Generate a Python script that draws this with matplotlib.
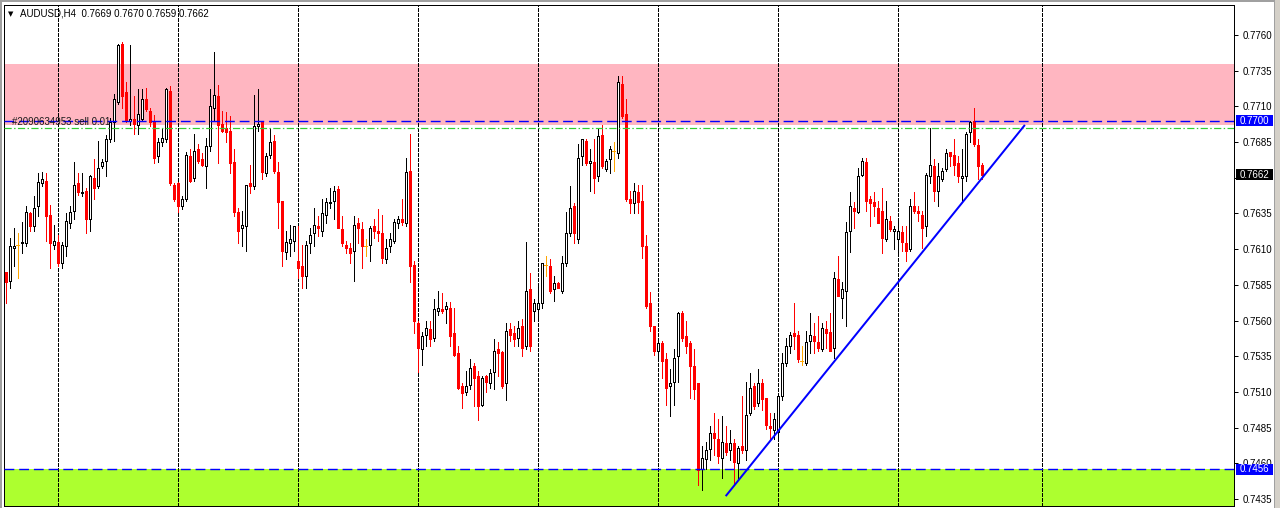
import matplotlib
matplotlib.use('Agg')
import matplotlib.pyplot as plt
import numpy as np
from matplotlib.transforms import blended_transform_factory
from matplotlib.patches import Rectangle

plt.rcParams['font.family'] = ['Liberation Sans', 'DejaVu Sans']

# ---------------- data (AUDUSD H4 candles) ----------------
opens = [0.7594, 0.7588, 0.7611, 0.7613, 0.7614, 0.7614, 0.7635, 0.7626, 0.7640, 0.7656,
         0.7658, 0.7634, 0.7613, 0.7615, 0.7600, 0.7612, 0.7628, 0.7637, 0.7656, 0.7649,
         0.7651, 0.7631, 0.7660, 0.7654, 0.7668, 0.7672, 0.7687, 0.7699, 0.7713, 0.7754,
         0.7720, 0.7700, 0.7701, 0.7697, 0.7701, 0.7715, 0.7707, 0.7699, 0.7675, 0.7685,
         0.7687, 0.7721, 0.7655, 0.7656, 0.7640, 0.7645, 0.7675, 0.7660, 0.7680, 0.7673,
         0.7668, 0.7682, 0.7709, 0.7717, 0.7698, 0.7695, 0.7693, 0.7671, 0.7636, 0.7625,
         0.7626, 0.7656, 0.7654, 0.7696, 0.7699, 0.7663, 0.7676, 0.7686, 0.7664, 0.7644,
         0.7608, 0.7614, 0.7616, 0.7602, 0.7598, 0.7591, 0.7614, 0.7621, 0.7626, 0.7623,
         0.7634, 0.7642, 0.7644, 0.7652, 0.7624, 0.7613, 0.7611, 0.7609, 0.7628, 0.7624,
         0.7612, 0.7613, 0.7626, 0.7623, 0.7621, 0.7603, 0.7612, 0.7616, 0.7628, 0.7631,
         0.7628, 0.7665, 0.7599, 0.7558, 0.7540, 0.7550, 0.7554, 0.7548, 0.7567, 0.7568,
         0.7568, 0.7569, 0.7551, 0.7537, 0.7514, 0.7510, 0.7515, 0.7528, 0.7521, 0.7501,
         0.7521, 0.7516, 0.7524, 0.7540, 0.7538, 0.7516, 0.7554, 0.7551, 0.7548, 0.7556,
         0.7542, 0.7582, 0.7567, 0.7568, 0.7572, 0.7599, 0.7598, 0.7582, 0.7586, 0.7581,
         0.7600, 0.7621, 0.7640, 0.7617, 0.7675, 0.7686, 0.7670, 0.7671, 0.7661, 0.7690,
         0.7666, 0.7673, 0.7679, 0.7677, 0.7726, 0.7705, 0.7645, 0.7642, 0.7650, 0.7644,
         0.7612, 0.7572, 0.7556, 0.7539, 0.7544, 0.7533, 0.7514, 0.7517, 0.7535, 0.7565,
         0.7549, 0.7544, 0.7528, 0.7516, 0.7456, 0.7463, 0.7470, 0.7481, 0.7477, 0.7464,
         0.7474, 0.7469, 0.7474, 0.7460, 0.7472, 0.7469, 0.7495, 0.7514, 0.7502, 0.7516,
         0.7506, 0.7486, 0.7483, 0.7482, 0.7507, 0.7530, 0.7542, 0.7551, 0.7550, 0.7532,
         0.7530, 0.7546, 0.7549, 0.7545, 0.7540, 0.7554, 0.7552, 0.7541, 0.7589, 0.7576,
         0.7581, 0.7623, 0.7639, 0.7636, 0.7662, 0.7671, 0.7645, 0.7643, 0.7639, 0.7637,
         0.7617, 0.7630, 0.7623, 0.7617, 0.7622, 0.7614, 0.7610, 0.7640, 0.7637, 0.7634,
         0.7626, 0.7661, 0.7668, 0.7651, 0.7659, 0.7666, 0.7678, 0.7676, 0.7670, 0.7660,
         0.7661, 0.7692, 0.7700, 0.7683, 0.7669]
highs = [0.7594, 0.7618, 0.7625, 0.7621, 0.7629, 0.7640, 0.7636, 0.7647, 0.7663, 0.7664,
         0.7663, 0.7641, 0.7627, 0.7620, 0.7615, 0.7635, 0.7640, 0.7671, 0.7663, 0.7663,
         0.7653, 0.7662, 0.7673, 0.7686, 0.7673, 0.7690, 0.7702, 0.7719, 0.7754, 0.7755,
         0.7727, 0.7753, 0.7717, 0.7722, 0.7722, 0.7723, 0.7709, 0.7704, 0.7688, 0.7694,
         0.7723, 0.7724, 0.7656, 0.7657, 0.7647, 0.7678, 0.7680, 0.7691, 0.7684, 0.7677,
         0.7688, 0.7722, 0.7748, 0.7725, 0.7707, 0.7706, 0.7703, 0.7680, 0.7639, 0.7637,
         0.7655, 0.7669, 0.7718, 0.7722, 0.7699, 0.7677, 0.7695, 0.7690, 0.7671, 0.7644,
         0.7623, 0.7627, 0.7626, 0.7626, 0.7613, 0.7616, 0.7625, 0.7639, 0.7633, 0.7645,
         0.7646, 0.7653, 0.7654, 0.7654, 0.7633, 0.7616, 0.7614, 0.7633, 0.7632, 0.7629,
         0.7617, 0.7626, 0.7631, 0.7638, 0.7634, 0.7617, 0.7621, 0.7631, 0.7633, 0.7645,
         0.7674, 0.7691, 0.7602, 0.7560, 0.7552, 0.7560, 0.7560, 0.7575, 0.7581, 0.7579,
         0.7573, 0.7573, 0.7569, 0.7542, 0.7516, 0.7525, 0.7533, 0.7530, 0.7525, 0.7521,
         0.7522, 0.7526, 0.7547, 0.7545, 0.7539, 0.7558, 0.7558, 0.7556, 0.7560, 0.7561,
         0.7615, 0.7593, 0.7575, 0.7584, 0.7600, 0.7605, 0.7603, 0.7591, 0.7587, 0.7605,
         0.7636, 0.7654, 0.7642, 0.7684, 0.7687, 0.7687, 0.7680, 0.7687, 0.7694, 0.7697,
         0.7673, 0.7682, 0.7685, 0.7731, 0.7731, 0.7715, 0.7651, 0.7656, 0.7655, 0.7655,
         0.7620, 0.7580, 0.7556, 0.7545, 0.7546, 0.7537, 0.7526, 0.7540, 0.7566, 0.7567,
         0.7560, 0.7546, 0.7540, 0.7516, 0.7472, 0.7475, 0.7486, 0.7495, 0.7491, 0.7493,
         0.7486, 0.7483, 0.7477, 0.7472, 0.7507, 0.7517, 0.7523, 0.7516, 0.7526, 0.7519,
         0.7506, 0.7495, 0.7495, 0.7508, 0.7537, 0.7548, 0.7552, 0.7572, 0.7553, 0.7542,
         0.7553, 0.7565, 0.7558, 0.7563, 0.7558, 0.7560, 0.7565, 0.7594, 0.7605, 0.7587,
         0.7629, 0.7650, 0.7643, 0.7667, 0.7674, 0.7674, 0.7647, 0.7650, 0.7644, 0.7653,
         0.7644, 0.7633, 0.7626, 0.7630, 0.7626, 0.7626, 0.7645, 0.7650, 0.7640, 0.7637,
         0.7663, 0.7695, 0.7673, 0.7670, 0.7667, 0.7680, 0.7678, 0.7687, 0.7675, 0.7680,
         0.7692, 0.7700, 0.7709, 0.7687, 0.7670]
lows = [0.7572, 0.7583, 0.7598, 0.7590, 0.7607, 0.7612, 0.7623, 0.7623, 0.7633, 0.7654,
        0.7616, 0.7597, 0.7610, 0.7598, 0.7597, 0.7605, 0.7625, 0.7631, 0.7648, 0.7647,
        0.7621, 0.7623, 0.7645, 0.7653, 0.7667, 0.7661, 0.7685, 0.7686, 0.7712, 0.7709,
        0.7699, 0.7697, 0.7691, 0.7691, 0.7700, 0.7707, 0.7696, 0.7670, 0.7671, 0.7682,
        0.7685, 0.7655, 0.7644, 0.7636, 0.7638, 0.7644, 0.7657, 0.7658, 0.7670, 0.7668,
        0.7653, 0.7679, 0.7700, 0.7670, 0.7692, 0.7685, 0.7663, 0.7633, 0.7614, 0.7612,
        0.7609, 0.7649, 0.7652, 0.7693, 0.7659, 0.7661, 0.7674, 0.7663, 0.7625, 0.7598,
        0.7603, 0.7605, 0.7609, 0.7590, 0.7583, 0.7583, 0.7607, 0.7612, 0.7619, 0.7619,
        0.7628, 0.7639, 0.7631, 0.7625, 0.7612, 0.7607, 0.7600, 0.7588, 0.7614, 0.7597,
        0.7605, 0.7602, 0.7618, 0.7616, 0.7600, 0.7600, 0.7608, 0.7614, 0.7625, 0.7627,
        0.7626, 0.7587, 0.7551, 0.7524, 0.7529, 0.7542, 0.7542, 0.7546, 0.7564, 0.7565,
        0.7558, 0.7542, 0.7535, 0.7512, 0.7499, 0.7508, 0.7512, 0.7500, 0.7490, 0.7500,
        0.7510, 0.7513, 0.7512, 0.7521, 0.7513, 0.7504, 0.7546, 0.7542, 0.7542, 0.7535,
        0.7540, 0.7539, 0.7560, 0.7561, 0.7569, 0.7591, 0.7579, 0.7574, 0.7583, 0.7579,
        0.7598, 0.7619, 0.7614, 0.7614, 0.7669, 0.7669, 0.7651, 0.7649, 0.7658, 0.7667,
        0.7665, 0.7663, 0.7665, 0.7674, 0.7702, 0.7644, 0.7635, 0.7635, 0.7635, 0.7604,
        0.7569, 0.7553, 0.7536, 0.7532, 0.7520, 0.7501, 0.7493, 0.7501, 0.7517, 0.7546,
        0.7537, 0.7506, 0.7505, 0.7445, 0.7441, 0.7456, 0.7462, 0.7466, 0.7460, 0.7450,
        0.7466, 0.7462, 0.7446, 0.7448, 0.7467, 0.7462, 0.7494, 0.7498, 0.7500, 0.7497,
        0.7484, 0.7476, 0.7477, 0.7477, 0.7504, 0.7528, 0.7537, 0.7540, 0.7531, 0.7529,
        0.7529, 0.7537, 0.7537, 0.7539, 0.7539, 0.7541, 0.7539, 0.7534, 0.7577, 0.7562,
        0.7556, 0.7608, 0.7625, 0.7635, 0.7661, 0.7637, 0.7626, 0.7633, 0.7628, 0.7607,
        0.7616, 0.7623, 0.7610, 0.7607, 0.7609, 0.7602, 0.7609, 0.7635, 0.7630, 0.7611,
        0.7619, 0.7656, 0.7644, 0.7640, 0.7658, 0.7665, 0.7668, 0.7662, 0.7657, 0.7644,
        0.7658, 0.7685, 0.7682, 0.7659, 0.7659]
closes = [0.7587, 0.7612, 0.7612, 0.7613, 0.7615, 0.7636, 0.7626, 0.7639, 0.7657, 0.7659,
          0.7633, 0.7614, 0.7616, 0.7600, 0.7613, 0.7630, 0.7636, 0.7655, 0.7650, 0.7650,
          0.7631, 0.7661, 0.7653, 0.7667, 0.7671, 0.7687, 0.7699, 0.7715, 0.7753, 0.7717,
          0.7700, 0.7701, 0.7698, 0.7705, 0.7715, 0.7708, 0.7699, 0.7674, 0.7685, 0.7688,
          0.7722, 0.7656, 0.7645, 0.7640, 0.7645, 0.7676, 0.7658, 0.7679, 0.7672, 0.7669,
          0.7682, 0.7710, 0.7718, 0.7697, 0.7693, 0.7692, 0.7670, 0.7636, 0.7623, 0.7627,
          0.7655, 0.7654, 0.7696, 0.7698, 0.7664, 0.7675, 0.7685, 0.7665, 0.7643, 0.7609,
          0.7615, 0.7617, 0.7626, 0.7597, 0.7591, 0.7613, 0.7620, 0.7627, 0.7625, 0.7635,
          0.7643, 0.7643, 0.7651, 0.7625, 0.7614, 0.7611, 0.7607, 0.7627, 0.7625, 0.7612,
          0.7612, 0.7625, 0.7623, 0.7621, 0.7604, 0.7611, 0.7617, 0.7629, 0.7631, 0.7629,
          0.7664, 0.7598, 0.7560, 0.7541, 0.7549, 0.7555, 0.7547, 0.7568, 0.7569, 0.7567,
          0.7570, 0.7549, 0.7536, 0.7513, 0.7509, 0.7514, 0.7527, 0.7520, 0.7500, 0.7520,
          0.7517, 0.7523, 0.7539, 0.7537, 0.7514, 0.7553, 0.7550, 0.7547, 0.7555, 0.7541,
          0.7581, 0.7542, 0.7572, 0.7572, 0.7600, 0.7599, 0.7581, 0.7586, 0.7583, 0.7600,
          0.7621, 0.7639, 0.7621, 0.7674, 0.7687, 0.7670, 0.7672, 0.7660, 0.7689, 0.7668,
          0.7672, 0.7680, 0.7679, 0.7727, 0.7703, 0.7645, 0.7642, 0.7651, 0.7643, 0.7612,
          0.7570, 0.7556, 0.7539, 0.7544, 0.7532, 0.7513, 0.7516, 0.7534, 0.7565, 0.7548,
          0.7542, 0.7528, 0.7512, 0.7455, 0.7464, 0.7469, 0.7481, 0.7478, 0.7465, 0.7475,
          0.7468, 0.7474, 0.7461, 0.7471, 0.7469, 0.7494, 0.7513, 0.7500, 0.7516, 0.7505,
          0.7487, 0.7485, 0.7491, 0.7507, 0.7530, 0.7542, 0.7550, 0.7549, 0.7533, 0.7532,
          0.7545, 0.7550, 0.7546, 0.7541, 0.7555, 0.7551, 0.7539, 0.7590, 0.7577, 0.7582,
          0.7622, 0.7640, 0.7637, 0.7661, 0.7672, 0.7644, 0.7642, 0.7640, 0.7628, 0.7618,
          0.7631, 0.7624, 0.7624, 0.7623, 0.7615, 0.7609, 0.7640, 0.7637, 0.7635, 0.7625,
          0.7662, 0.7669, 0.7651, 0.7661, 0.7665, 0.7677, 0.7675, 0.7669, 0.7661, 0.7661,
          0.7691, 0.7699, 0.7684, 0.7668, 0.7662]

title_text = "AUDUSD,H4  0.7669 0.7670 0.7659 0.7662"
order_text = "#2090634953 sell 0.01"
resistance_zone = (0.7697, 0.7740)
support_zone = (0.7400, 0.7456)
sell_line = 0.7700
order_line = 0.7695
support_line = 0.7456
trend_x = [180.0, 254.8]
trend_y = [0.7437, 0.7697]
separators = [13, 43, 73, 103, 133, 163, 193, 223, 259]
ytick_values = [0.7435, 0.7460, 0.7485, 0.7510, 0.7535, 0.7560, 0.7585,
                0.7610, 0.7635, 0.7660, 0.7685, 0.7710, 0.7735, 0.7760]
hidden_tick_labels = [0.7660]   # covered by the current-price tag
price_tags = [(0.7700, '#0000FF'), (0.7662, '#000000'), (0.7456, '#0000FF')]

# ---------------- figure ----------------
W, H = 1280, 508
fig = plt.figure(figsize=(W / 100, H / 100), dpi=100)
fig.patch.set_facecolor('white')
ax = fig.add_axes([4 / W, 2 / H, 1230 / W, 501 / H])
ax.set_facecolor('white')
ax.set_xlim(-0.42, 307.08)
ax.set_ylim(0.74301, 0.778101)

px = 0.72  # one pixel in points

o = np.array(opens); h = np.array(highs); l = np.array(lows); c = np.array(closes)
x = np.arange(len(o))

# zones
ax.axhspan(*resistance_zone, color='#FFB6C1', zorder=0, lw=0)
ax.axhspan(*support_zone, color='#ADFF2F', zorder=0, lw=0)

# period separators
for s in separators:
    ax.axvline(s, color='black', lw=px, ls=(0, (3, 2)), zorder=1, antialiased=False)

# candles
bull = c > o
bear = c < o
doji = c == o
ax.vlines(x[bull], l[bull], h[bull], colors='black', lw=px, zorder=3, antialiased=False)
ax.bar(x[bull], (c - o)[bull], bottom=o[bull], width=0.5, facecolor='white',
       edgecolor='black', linewidth=px, zorder=4, antialiased=False)
ax.vlines(x[bear], l[bear], h[bear], colors='#FF0000', lw=px, zorder=3, antialiased=False)
ax.bar(x[bear], (o - c)[bear], bottom=c[bear], width=0.5, facecolor='#FF0000',
       edgecolor='#FF0000', linewidth=px, zorder=4, antialiased=False)
ax.vlines(x[doji], l[doji], h[doji], colors='#FFA500', lw=px, zorder=3, antialiased=False)
ax.hlines(o[doji], x[doji] - 0.375, x[doji] + 0.375, colors='#FFA500', lw=px, zorder=4,
          antialiased=False)

# horizontal levels
ax.axhline(sell_line, color='#0000FF', lw=1.4 * px, ls=(0, (7, 3.5)), zorder=5)
ax.axhline(support_line, color='#0000FF', lw=1.4 * px, ls=(0, (7, 3.5)), zorder=5)
ax.axhline(order_line, color='#32CD32', lw=1.2 * px, ls=(0, (6, 2, 1.2, 2)), zorder=5)

# trend line
ax.plot(trend_x, trend_y, color='#0000FF', lw=2 * px, zorder=6, solid_capstyle='butt')

# texts
ax.text(8 / 1230, order_line + 0.00003, order_text, transform=ax.get_yaxis_transform(),
        fontsize=7, color='#1a1a1a', va='bottom', ha='left', zorder=6)
fig.text(8 / W, 1 - 14 / H, '\u25bc', fontsize=5, family='DejaVu Sans', va='center',
         ha='left', color='black')
fig.text(20 / W, 1 - 14 / H, title_text, fontsize=7, va='center', ha='left', color='black')

# axes styling
for sp in ax.spines.values():
    sp.set_color('black')
    sp.set_linewidth(px)
ax.set_xticks([])
ax.yaxis.tick_right()
ax.set_yticks(ytick_values)
ax.set_yticklabels(['' if v in hidden_tick_labels else '%.4f' % v for v in ytick_values])
ax.tick_params(axis='y', direction='out', length=3, width=px, pad=3, labelsize=7,
               colors='black')

# price tags on the scale
btr = blended_transform_factory(fig.transFigure, ax.transData)
half = 5.5 / 14277
for val, col in price_tags:
    fig.add_artist(Rectangle((1236 / W, val - half), 37 / W, 2 * half, transform=btr,
                             facecolor=col, edgecolor='none', zorder=10))
    fig.text(1240 / W, val, '%.4f' % val, transform=btr, fontsize=7, color='white',
             va='center', ha='left', zorder=11)

# window frame bits
fig.add_artist(Rectangle((0, 1 - 2 / H), 1, 2 / H, transform=fig.transFigure,
                         facecolor='#a0a0a0', edgecolor='none'))
fig.add_artist(Rectangle((0, 0), 2 / W, 1, transform=fig.transFigure,
                         facecolor='#a0a0a0', edgecolor='none'))
fig.add_artist(Rectangle((1274 / W, 0), 6 / W, 1, transform=fig.transFigure,
                         facecolor='#d4d0c8', edgecolor='none'))
fig.add_artist(Rectangle((1274 / W, 0), 1 / W, 1, transform=fig.transFigure,
                         facecolor='#a0a0a0', edgecolor='none'))

fig.savefig('out.png', dpi=100)
